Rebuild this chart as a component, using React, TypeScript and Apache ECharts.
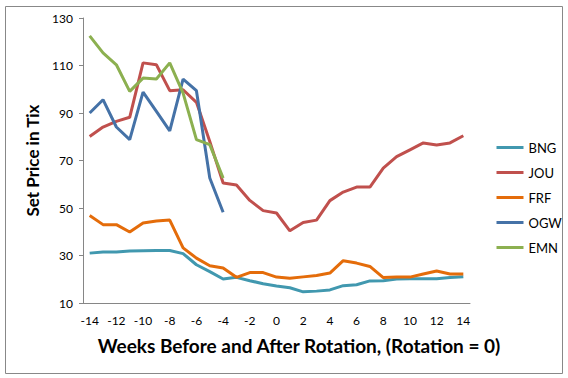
import React, { useEffect, useRef } from "react";
import * as echarts from "echarts";

const weeks = [-14,-13,-12,-11,-10,-9,-8,-7,-6,-5,-4,-3,-2,-1,0,1,2,3,4,5,6,7,8,9,10,11,12,13,14].map(String);

const BNG = [31.0,31.5,31.5,31.9,32.0,32.1,32.1,30.8,26.1,23.2,20.1,20.8,19.4,18.1,17.2,16.4,14.7,15.0,15.5,17.3,17.7,19.3,19.4,20.1,20.2,20.2,20.2,20.7,21.1];
const JOU = [80.1,84.1,86.5,88.2,111.1,110.3,99.4,99.8,94.5,78.0,60.5,59.7,53.2,48.9,47.9,40.4,43.9,44.9,53.1,56.7,58.8,58.8,66.8,71.6,74.5,77.4,76.5,77.4,80.4];
const FRF = [46.8,43.0,43.0,39.9,43.7,44.5,44.9,33.2,28.9,25.7,24.7,20.8,22.8,22.8,20.9,20.4,21.0,21.6,22.6,27.8,26.8,25.4,20.7,20.9,20.9,22.2,23.5,22.2,22.2];
const OGW = [90.0,95.6,84.1,78.8,98.8,90.7,82.5,104.3,99.4,62.6,48.2,null,null,null,null,null,null,null,null,null,null,null,null,null,null,null,null,null,null];
const EMN = [122.5,115.3,110.3,99.1,104.7,104.3,111.1,98.4,78.8,76.7,62.6,null,null,null,null,null,null,null,null,null,null,null,null,null,null,null,null,null,null];

const seriesNames = ["BNG", "JOU", "FRF", "OGW", "EMN"];
const seriesData = [BNG, JOU, FRF, OGW, EMN];
const colors = ["#4198AF", "#C0504D", "#E46C0A", "#4572A7", "#8CB050"];

const FONT = "Lato, 'Open Sans', sans-serif";

export default function App() {
  const ref = useRef<HTMLDivElement>(null);
  useEffect(() => {
    document.body.style.margin = "0";
    const chart = echarts.init(ref.current!, undefined, { renderer: "svg" });
    chart.setOption({
      animation: false,
      backgroundColor: "#fff",
      textStyle: { fontFamily: FONT },
      grid: { left: 83, right: 98, top: 18, bottom: 75 },
      graphic: [
        {
          type: "rect",
          shape: { x: 5.5, y: 6.5, width: 557, height: 367 },
          style: { fill: "none", stroke: "#888", lineWidth: 1 },
          silent: true,
          z: -1,
        },
        {
          type: "text",
          x: 299,
          y: 345,
          style: {
            text: "Weeks Before and After Rotation, (Rotation = 0)",
            fontFamily: FONT,
            fontWeight: "bold",
            fontSize: 19,
            fill: "#000",
            align: "center",
            verticalAlign: "middle",
          },
        },
      ],
      legend: {
        orient: "vertical",
        left: 490,
        top: 136,
        itemWidth: 27,
        itemHeight: 12,
        itemGap: 12,
        itemTextGap: 2,
        itemStyle: { opacity: 0 },
        lineStyle: { width: 3 },
        textStyle: { fontSize: 13, color: "#000", fontFamily: FONT },
        data: seriesNames,
      },
      xAxis: {
        type: "category",
        data: weeks,
        boundaryGap: true,
        axisLine: { lineStyle: { color: "#868686", width: 1 } },
        axisTick: { interval: 0, length: 5, lineStyle: { color: "#868686" } },
        axisLabel: { interval: 1, fontSize: 12, color: "#000", margin: 11, fontFamily: FONT },
        splitLine: { show: false },
      },
      yAxis: {
        type: "value",
        min: 10,
        max: 130,
        interval: 20,
        name: "Set Price in Tix",
        nameLocation: "middle",
        nameGap: 40,
        nameTextStyle: { fontSize: 17, fontWeight: "bold", color: "#000", fontFamily: FONT },
        axisLine: { show: true, lineStyle: { color: "#868686", width: 1 } },
        axisTick: { show: true, length: 4, lineStyle: { color: "#868686" } },
        axisLabel: { fontSize: 12, color: "#000", margin: 10, fontFamily: FONT },
        splitLine: { show: false },
      },
      series: seriesNames.map((n, i) => ({
        name: n,
        type: "line",
        data: seriesData[i],
        showSymbol: false,
        symbol: "none",
        connectNulls: false,
        color: colors[i],
        lineStyle: { width: 3, color: colors[i] },
      })),
    });
    return () => chart.dispose();
  }, []);
  return <div ref={ref} style={{ width: 568, height: 378 }} />;
}
